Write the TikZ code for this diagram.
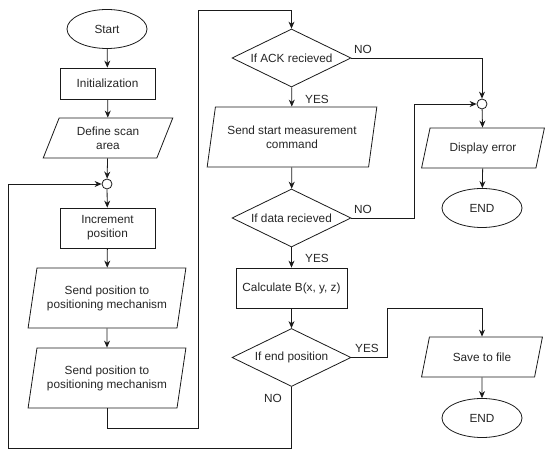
\documentclass[tikz,border=0pt]{standalone}
\usepackage{fontspec}
\setmainfont{Liberation Sans}
\usepackage{tikz}
\usetikzlibrary{arrows.meta, shapes.geometric}
\definecolor{inkdark}{HTML}{1A1A1A}
\definecolor{textgray}{HTML}{262626}

\begin{document}
\begin{tikzpicture}[
  x=1pt, y=-1pt,
  every node/.style={font=\fontsize{11.8}{14}\selectfont, text=textgray, align=center},
  base/.style={draw=inkdark, line width=0.8pt, fill=white},
  term/.style={base, ellipse, minimum width=80pt, minimum height=39pt, inner sep=0pt},
  proc/.style={base, rectangle, minimum width=95pt, minimum height=40pt},
  io/.style={base, trapezium, trapezium stretches=true, trapezium left angle=67,
             trapezium right angle=113, minimum height=40pt, inner sep=1pt},
  iotall/.style={io, trapezium left angle=74, trapezium right angle=106, minimum height=60pt},
  decide/.style={base, diamond, aspect=2.05, minimum width=119pt, minimum height=58pt, inner sep=0pt},
  joint/.style={base, circle, minimum size=10pt, inner sep=0pt},
  arr/.style={draw=inkdark, line width=0.8pt, -{Stealth[length=7pt, width=6pt]}},
  lbl/.style={inner sep=0pt},
]
  \useasboundingbox (0,0) rectangle (550,457);
  % --- left column: set-up and positioning ---
  \node[term] (start) at (107,29) {Start};
  \node[proc, minimum height=31pt] (init) at (107.5,83.5) {Initialization};
  \node[io, minimum width=130pt] (scan) at (108,138) {Define scan\\area};
  \node[joint] (jscan) at (107,184) {};
  \node[proc] (incr) at (107.5,228) {Increment\\position};
  \node[iotall, minimum width=158pt] (sendA) at (107,298) {Send position to\\positioning mechanism};
  \node[iotall, minimum width=158pt] (sendB) at (107,378) {Send position to\\positioning mechanism};
  % --- middle column: measurement ---
  \node[decide] (ack) at (291.5,58) {If ACK recieved};
  \node[iotall, minimum width=170pt] (meas) at (292,137) {Send start measurement\\command};
  \node[decide] (data) at (291.5,218) {If data recieved};
  \node[proc, minimum width=111pt] (calc) at (291.5,288) {Calculate B(x, y, z)};
  \node[decide] (last) at (291.5,357.5) {If end position};
  % --- right column: error and save ---
  \node[joint] (jerr) at (482,104) {};
  \node[io, minimum width=123pt] (disp) at (483,148) {Display error};
  \node[term] (endA) at (482,208) {END};
  \node[io, minimum width=121pt] (save) at (482,357) {Save to file};
  \node[term] (endB) at (482,418) {END};

  % --- straight arrows ---
  \foreach \a/\b in {start/init, init/scan, scan/jscan, jscan/incr, incr/sendA, sendA/sendB,
                     ack/meas, meas/data, data/calc, calc/last, jerr/disp, disp/endA, save/endB}
    \draw[arr] (\a) -- (\b);
  % --- routed arrows ---
  \draw[arr] (sendB.south) |- (198,428) -- (198,10) -| (ack.north);
  \draw[arr] (ack.east) -| (jerr.north);
  \draw[arr] (data.east) -- (414,218) |- (jerr.west);
  \draw[arr] (last.east) -| (387,308) -| (save.north);
  \draw[arr] (last.south) |- (8,448) |- (jscan.west);
  % --- branch labels ---
  \node[lbl] (ackno) at (363,49) {NO};
  \node[lbl] (ackyes) at (317,99) {YES};
  \node[lbl] (datano) at (363,209) {NO};
  \node[lbl] (datayes) at (317,258) {YES};
  \node[lbl] (lastyes) at (367,348) {YES};
  \node[lbl] (lastno) at (273,398) {NO};
\end{tikzpicture}
\end{document}
